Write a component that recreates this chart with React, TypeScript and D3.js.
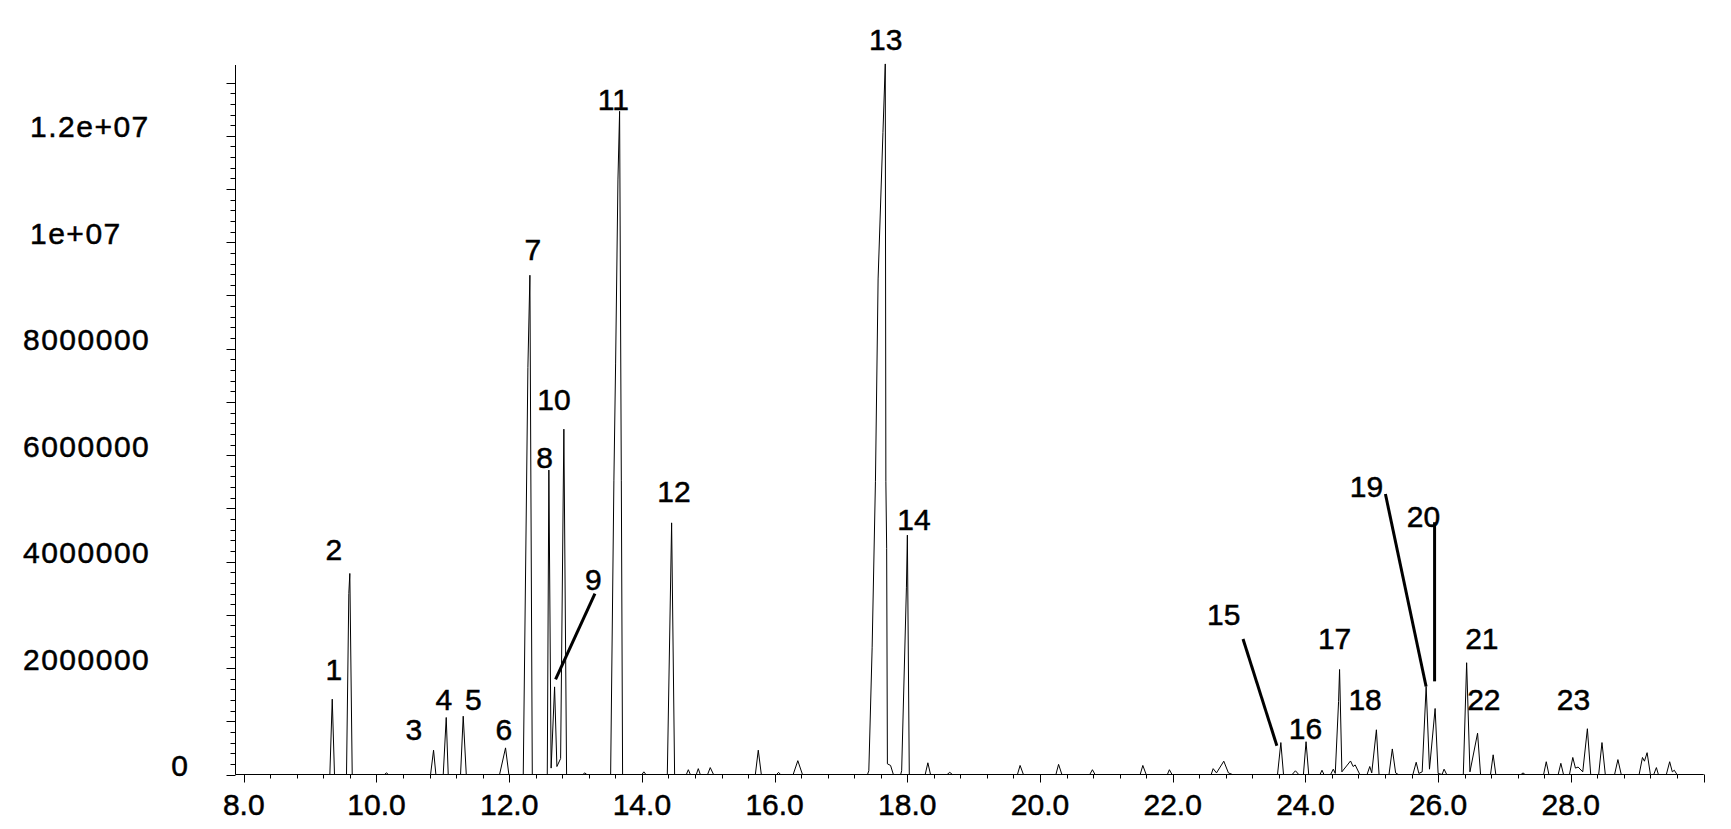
import React from "react";
import * as d3 from "d3";

// chromatogram trace: [retention time (min), abundance]
const traceEarly: [number, number][] = [
  [7.875, 0],
  [9.297, 0], [9.333, 1.415e6], [9.367, 0],
  [9.548, 0], [9.583, 3.4e6], [9.598, 3.777e6], [9.634, 0],
  [10.12, 0], [10.15, 0.03e6], [10.18, 0],
  [10.815, 0], [10.86, 0.457e6], [10.895, 0],
  [11.006, 0], [11.051, 1.071e6], [11.081, 0],
  [11.267, 0], [11.307, 1.095e6], [11.353, 0],
  [11.855, 0], [11.945, 0.5e6], [11.995, 0],
];

const traceMid: [number, number][] = [
  [12.212, 0], [12.282, 7.65e6], [12.312, 9.38e6], [12.348, 0],
  [12.574, 0], [12.598, 5.72e6], [12.632, 0.12e6], [12.684, 1.646e6], [12.719, 0.15e6],
  [12.775, 0.3e6], [12.824, 6.488e6], [12.865, 0],
  [13.11, 0], [13.14, 0.03e6], [13.17, 0],
  [13.529, 0], [13.578, 5.53e6], [13.604, 7.73e6], [13.639, 11.17e6], [13.664, 12.46e6],
  [13.69, 5.53e6], [13.709, 0],
  [14.0, 0], [14.03, 0.05e6], [14.06, 0],
  [14.383, 0], [14.448, 4.728e6], [14.493, 0],
  [14.67, 0], [14.7, 0.09e6], [14.73, 0],
  [14.82, 0], [14.85, 0.11e6], [14.88, 0],
  [14.99, 0], [15.03, 0.13e6], [15.08, 0],
  [15.71, 0], [15.754, 0.457e6], [15.8, 0],
  [16.03, 0], [16.06, 0.04e6], [16.09, 0],
  [16.28, 0], [16.35, 0.26e6], [16.42, 0],
  [17.4, 0], [17.42, 0.07e6], [17.47, 2.38e6], [17.52, 5.51e6], [17.56, 9.31e6],
  [17.633, 12.06e6], [17.668, 13.35e6], [17.677, 5.5e6], [17.689, 4.25e6], [17.7, 0.2e6],
  [17.748, 0.17e6], [17.79, 0],
  [17.9, 0], [17.915, 0.07e6], [17.987, 3.52e6], [18.001, 4.497e6], [18.03, 0],
  [18.27, 0], [18.31, 0.22e6], [18.35, 0],
  [18.6, 0], [18.64, 0.04e6], [18.68, 0],
];

const traceLate: [number, number][] = [
  [19.66, 0], [19.7, 0.17e6], [19.75, 0],
  [20.24, 0], [20.28, 0.19e6], [20.33, 0],
  [20.75, 0], [20.79, 0.09e6], [20.83, 0],
  [21.51, 0], [21.55, 0.17e6], [21.6, 0],
  [21.92, 0], [21.95, 0.09e6], [21.99, 0],
  [22.58, 0], [22.61, 0.11e6], [22.66, 0.03e6], [22.77, 0.25e6], [22.84, 0.03e6], [22.9, 0],
  [23.58, 0], [23.63, 0.6e6], [23.67, 0],
  [23.8, 0], [23.85, 0.07e6], [23.9, 0],
  [23.97, 0], [24.01, 0.616e6], [24.05, 0],
  [24.22, 0], [24.25, 0.08e6], [24.28, 0],
  [24.38, 0], [24.42, 0.1e6], [24.45, 0.02e6],
  [24.5, 1.37e6], [24.515, 1.973e6], [24.55, 0.05e6],
  [24.68, 0.254e6], [24.72, 0.15e6], [24.75, 0.18e6], [24.82, 0],
  [24.93, 0], [24.97, 0.15e6], [25.0, 0.03e6],
  [25.07, 0.84e6], [25.11, 0],
  [25.26, 0], [25.31, 0.48e6], [25.36, 0.03e6], [25.4, 0],
  [25.62, 0], [25.67, 0.23e6], [25.71, 0.02e6],
  [25.76, 0.05e6], [25.82, 1.654e6], [25.87, 0.1e6],
  [25.955, 1.24e6], [26.0, 0.02e6],
  [26.06, 0], [26.09, 0.1e6], [26.13, 0],
  [26.38, 0], [26.43, 2.1e6], [26.48, 0.05e6],
  [26.595, 0.776e6], [26.64, 0],
  [26.79, 0], [26.83, 0.37e6], [26.87, 0],
  [27.25, 0], [27.28, 0.03e6], [27.31, 0],
  [27.59, 0], [27.63, 0.24e6], [27.67, 0],
  [27.81, 0], [27.85, 0.21e6], [27.89, 0],
  [27.98, 0], [28.03, 0.32e6], [28.07, 0.12e6], [28.11, 0.14e6],
  [28.18, 0.05e6], [28.25, 0.86e6], [28.3, 0],
  [28.42, 0], [28.47, 0.6e6], [28.52, 0],
  [28.66, 0], [28.71, 0.28e6], [28.76, 0],
  [29.03, 0], [29.08, 0.32e6], [29.11, 0.25e6], [29.15, 0.41e6], [29.2, 0],
  [29.25, 0], [29.29, 0.13e6], [29.32, 0],
  [29.44, 0], [29.49, 0.24e6], [29.53, 0.05e6], [29.56, 0.08e6], [29.6, 0],
  [30.0, 0],
];

// peak numbers and where their labels sit (time, abundance at text baseline)
const peakNumbers = [1, 2, 3, 4, 5, 6, 7, 8, 9, 10, 11, 12, 13, 14, 15, 16, 17, 18, 19, 20, 21, 22, 23];
const labelTimes = [9.357, 9.357, 10.563, 11.015, 11.458, 11.92, 12.357, 12.533, 13.268, 12.674, 13.569, 14.484,
  17.675, 18.1, 22.77, 24.0, 24.44, 24.9, 24.92, 25.78, 26.66, 26.69, 28.04];
const labelAbundance = [1.772e6, 4.027e6, 0.645e6, 1.208e6, 1.208e6, 0.645e6, 9.664e6, 5.75e6, 3.463e6, 6.845e6,
  12.48e6, 5.122e6, 13.61e6, 4.59e6, 2.8e6, 0.67e6, 2.355e6, 1.21e6, 5.22e6, 4.645e6, 2.355e6, 1.21e6, 1.21e6];

// leader lines for peaks 9, 15, 19, 20
const leaderStart: [number, number][] = [[13.292, 3.4e6], [23.06, 2.546e6], [25.206, 5.27e6], [25.947, 4.74e6]];
const leaderEnd: [number, number][] = [[12.699, 1.785e6], [23.57, 0.541e6], [25.819, 1.654e6], [25.947, 1.75e6]];

const xTickValues = [8, 10, 12, 14, 16, 18, 20, 22, 24, 26, 28];
const xTickLabels = ["8.0", "10.0", "12.0", "14.0", "16.0", "18.0", "20.0", "22.0", "24.0", "26.0", "28.0"];
const yTickValues = [0, 2e6, 4e6, 6e6, 8e6, 10e6, 12e6];
const yTickLabels = ["0", "2000000", "4000000", "6000000", "8000000", "1e+07", "1.2e+07"];

const W = 1731, H = 829;
const left = 235.5, right = 1703.5, top = 65, bottom = 774.5;
const font = "'Liberation Sans', Arial, Helvetica, sans-serif";

export default function App() {
  const x = d3.scaleLinear().domain([7.875, 30]).range([left, right]);
  const y = d3.scaleLinear().domain([0, 13.33e6]).range([bottom, top]);

  const line = d3.line<[number, number]>()
    .x(d => x(d[0]))
    .y(d => y(d[1]));
  const trace = [...traceEarly, ...traceMid, ...traceLate];

  // minor ticks every 0.4 min, major every 2.0
  const xTicks = d3.range(0, 56).map(i => ({ t: 8 + i * 0.4, major: i % 5 === 0 }));
  // minor ticks every 2e5, major every 1e6
  const yTicks = d3.range(0, 66).map(i => ({ v: i * 2e5, major: i % 5 === 0 }));

  // the bitmap text in the original looks heavier than plain antialiased text
  const textStyle = { fontSize: 30, fill: "#000", stroke: "#000", strokeWidth: 0.5 };

  return (
    <svg width={W} height={H} style={{ position: "absolute", left: 0, top: 0, background: "#fff" }}
      fontFamily={font}>
      <rect width={W} height={H} fill="#fff" />
      {/* axes */}
      <line x1={left} x2={left} y1={top} y2={bottom} stroke="#000" />
      <line x1={left} x2={right} y1={bottom} y2={bottom} stroke="#000" />
      {xTicks.map((d, i) => (
        <line key={"xt" + i} x1={Math.round(x(d.t)) + 0.5} x2={Math.round(x(d.t)) + 0.5}
          y1={bottom} y2={bottom + (d.major ? 8 : 4)} stroke="#000" />
      ))}
      {yTicks.map((d, i) => (
        <line key={"yt" + i} x1={left - (d.major ? 9 : 5)} x2={left}
          y1={Math.round(y(d.v)) + 0.5} y2={Math.round(y(d.v)) + 0.5} stroke="#000" />
      ))}
      {xTickValues.map((t, i) => (
        <text key={"xl" + i} x={x(t)} y={815} textAnchor="middle" style={textStyle}>{xTickLabels[i]}</text>
      ))}
      {yTickValues.map((v, i) => (
        v === 0
          ? <text key={"yl" + i} x={188} y={y(v) + 1} textAnchor="end" style={textStyle}>{yTickLabels[i]}</text>
          : <text key={"yl" + i} x={v >= 1e7 ? 30 : 23} y={y(v) + 1.5} letterSpacing={1.5}
            style={textStyle}>{yTickLabels[i]}</text>
      ))}
      {/* trace */}
      <path d={line(trace) ?? ""} fill="none" stroke="#000" strokeWidth={1} />
      {/* leader lines */}
      {leaderStart.map((s, i) => (
        <line key={"ld" + i} x1={x(s[0])} y1={y(s[1])} x2={x(leaderEnd[i][0])} y2={y(leaderEnd[i][1])}
          stroke="#000" strokeWidth={3} />
      ))}
      {/* peak numbers */}
      {peakNumbers.map((n, i) => (
        <text key={"pk" + n} x={x(labelTimes[i])} y={y(labelAbundance[i])} textAnchor="middle"
          style={textStyle}>{n}</text>
      ))}
    </svg>
  );
}
